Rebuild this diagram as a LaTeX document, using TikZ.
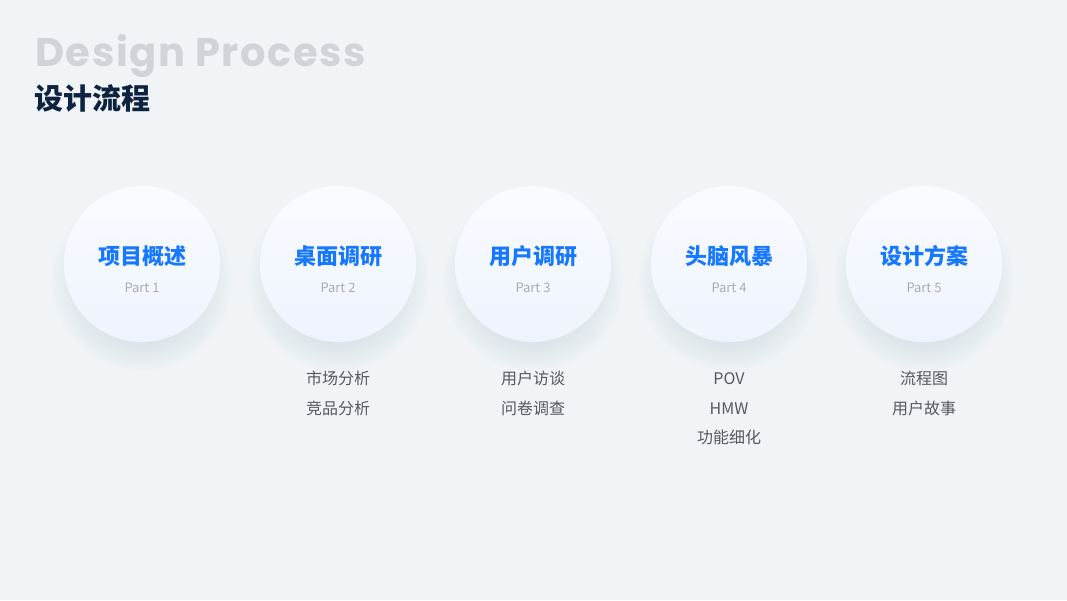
\documentclass[tikz,border=0pt]{standalone}
\usepackage{fontspec}
\setmainfont{Noto Sans CJK SC}
\newfontfamily\cjk{Noto Sans CJK SC}
\newfontfamily\titlefont[LetterSpace=4]{Poppins}
\usepackage{tikz}
\usetikzlibrary{
	positioning
}
\definecolor{BgGray}{RGB}{240,244,247}
\definecolor{TitleGray}{RGB}{208,212,217}
\definecolor{Navy}{RGB}{13,35,64}
\definecolor{StageBlue}{RGB}{22,119,255}
\definecolor{PartGray}{RGB}{168,172,178}
\definecolor{ItemGray}{RGB}{85,89,96}
\definecolor{CircleTop}{RGB}{249,251,255}
\definecolor{CircleBot}{RGB}{238,244,253}
\definecolor{ShadowGray}{RGB}{105,115,130}

\tikzset{
	stage/.style={circle,minimum size=156pt,inner sep=0pt,
		top color=CircleTop,bottom color=CircleBot},
	softshadow/.style={fill=ShadowGray,fill opacity=0.009},
	stagename/.style={font=\cjk\bfseries\fontsize{22}{26}\selectfont,text=StageBlue,inner sep=0pt},
	partlabel/.style={font=\fontsize{13}{15}\selectfont,text=PartGray,inner sep=0pt},
	items/.style={font=\fontsize{16}{29.5}\selectfont,text=ItemGray,align=center,inner sep=0pt}
}

\begin{document}
\begin{tikzpicture}[x=1pt,y=-1pt]
	% 背景
	\fill[BgGray] (0,0) rectangle (1067,600);
	
	% 标题
	\node[anchor=base west,inner sep=0pt,text=TitleGray,font=\titlefont\bfseries\fontsize{40}{44}\selectfont] (entitle) at (35,66) {Design Process};
	\node[anchor=base west,inner sep=0pt,text=Navy,font=\cjk\bfseries\fontsize{29}{32}\selectfont] (cntitle) at (34,109) {设计流程};
	
	% 圆心位置
	\coordinate (c1) at (142,264);
	\coordinate (c2) at (338,264);
	\coordinate (c3) at (533,264);
	\coordinate (c4) at (729,264);
	\coordinate (c5) at (924,264);
	
	% 阴影，叠加半透明圆
	\foreach \c in {c1,c2,c3,c4,c5}
		\foreach \r in {48,50,...,90}
			\path[softshadow] ([yshift=-17pt]\c) circle (\r);
	
	% 五个阶段
	\node[stage] (s1) at (c1) {};
	\node[stage] (s2) at (c2) {};
	\node[stage] (s3) at (c3) {};
	\node[stage] (s4) at (c4) {};
	\node[stage] (s5) at (c5) {};
	
	\node[stagename] (n1) at ([yshift=8pt]s1.center) {项目概述};
	\node[stagename] (n2) at ([yshift=8pt]s2.center) {桌面调研};
	\node[stagename] (n3) at ([yshift=8pt]s3.center) {用户调研};
	\node[stagename] (n4) at ([yshift=8pt]s4.center) {头脑风暴};
	\node[stagename] (n5) at ([yshift=8pt]s5.center) {设计方案};
	
	\node[partlabel] (p1) at ([yshift=-24pt]s1.center) {Part 1};
	\node[partlabel] (p2) at ([yshift=-24pt]s2.center) {Part 2};
	\node[partlabel] (p3) at ([yshift=-24pt]s3.center) {Part 3};
	\node[partlabel] (p4) at ([yshift=-24pt]s4.center) {Part 4};
	\node[partlabel] (p5) at ([yshift=-24pt]s5.center) {Part 5};
	
	% 各阶段内容
	\node[items,below=29pt of s2] (i2) {市场分析\\竞品分析};
	\node[items,below=29pt of s3] (i3) {用户访谈\\问卷调查};
	\node[items,below=30.5pt of s4] (i4) {POV\\HMW\\功能细化};
	\node[items,below=29pt of s5] (i5) {流程图\\用户故事};
\end{tikzpicture}
\end{document}
